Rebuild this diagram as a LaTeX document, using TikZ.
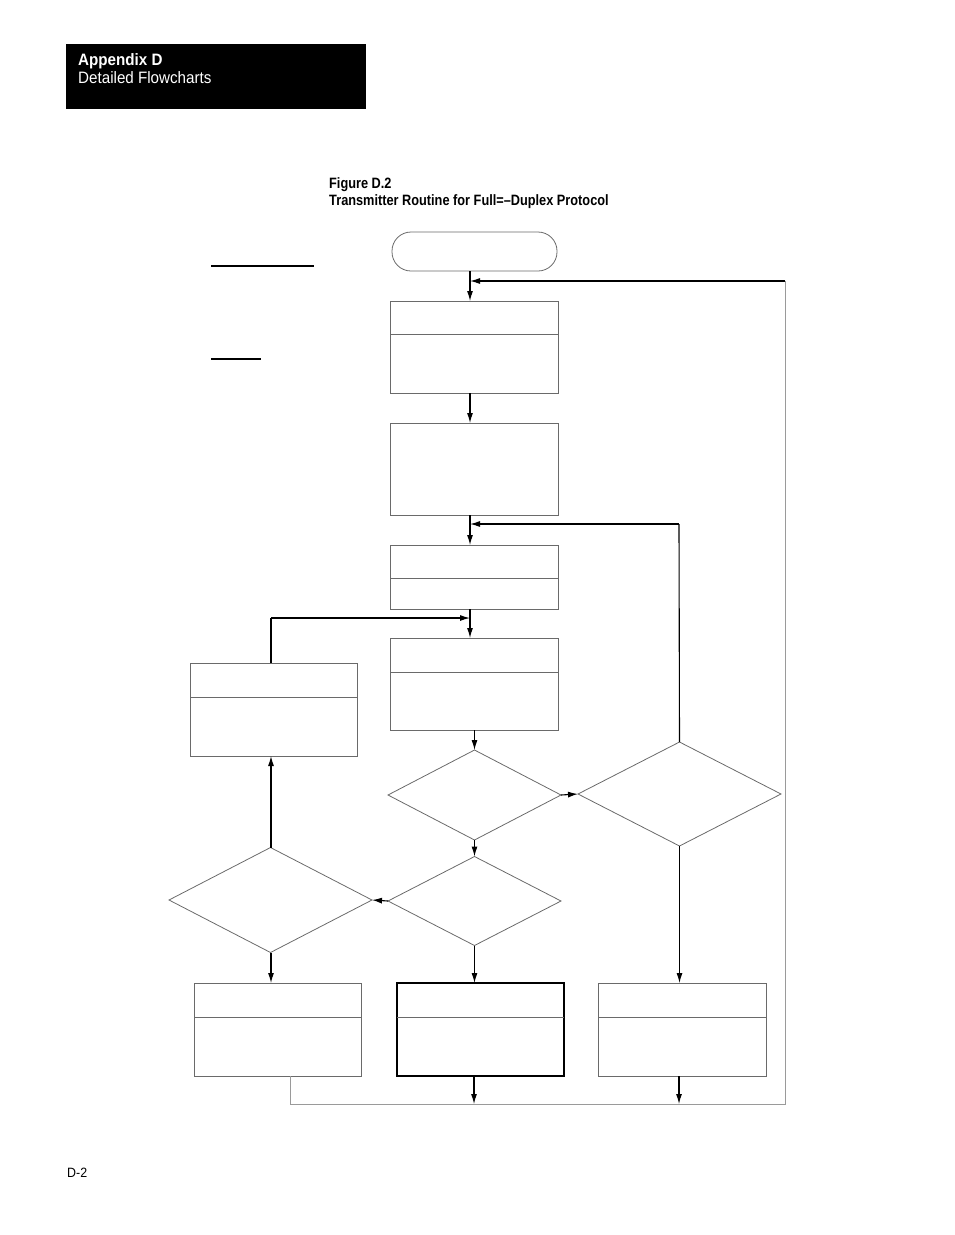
\documentclass[tikz,border=0pt]{standalone}
\usepackage{fontspec}
\setmainfont{Liberation Sans}
\newfontfamily\hdrfont[FakeStretch=0.92]{Liberation Sans}
\newfontfamily\ttlfont[FakeStretch=0.85]{Liberation Sans}
\usetikzlibrary{shapes.geometric,arrows.meta}
\definecolor{boxgray}{HTML}{6A6A6A}
\definecolor{loopgray}{HTML}{9A9A9A}
\begin{document}
\begin{tikzpicture}[x=1pt,y=-1pt,
  box/.style={draw=boxgray, line width=1pt, minimum width=168pt, minimum height=92pt, inner sep=0pt, outer sep=0pt},
  dia/.style={diamond, draw=boxgray, line width=0.8pt, inner sep=0pt, outer sep=0pt},
  div/.style={draw=boxgray, line width=0.9pt},
  arr/.style={-{Latex[length=10pt,width=6pt]}, line width=1.1pt, black},
  ln/.style={line width=1.1pt, black},
  gln/.style={line width=1pt, loopgray},
  txt/.style={inner sep=0pt, anchor=base west}]
\useasboundingbox (0,0) rectangle (954,1235);

% header
\node[fill=black, minimum width=300pt, minimum height=65pt, inner sep=0pt] (hdr) at (216,76.5) {};
\node[txt, text=white, font=\hdrfont\bfseries\fontsize{16.5}{19}\selectfont] (hdr1) at (78,65.5) {Appendix D};
\node[txt, text=white, font=\hdrfont\fontsize{16.5}{19}\selectfont] (hdr2) at (78,83.5) {Detailed Flowcharts};

% title
\node[txt, font=\ttlfont\bfseries\fontsize{15}{18}\selectfont] (ttl1) at (329,188.5) {Figure D.2};
\node[txt, font=\ttlfont\bfseries\fontsize{15}{18}\selectfont] (ttl2) at (329,205) {Transmitter Routine for Full=–Duplex Protocol};

% page number
\node[txt, font=\hdrfont\fontsize{13.5}{16}\selectfont] (pg) at (67,1177) {D-2};

% underlines
\draw[line width=1.2pt] (211,266) -- (314,266);
\draw[line width=1.2pt] (211,359) -- (261,359);

% terminator
\node[draw=boxgray, line width=0.8pt, rounded corners=19pt, minimum width=165pt, minimum height=39pt, inner sep=0pt] (term) at (474.5,251.5) {};

% boxes
\node[box] (b1) at (474,347) {};
\node[box] (b2) at (474,469) {};
\node[box, minimum height=64pt] (b3) at (474,577) {};
\node[box] (b4) at (474,684) {};
\node[box, minimum width=167pt, minimum height=93pt] (bL) at (273.5,709.5) {};
\node[box, minimum width=167pt, minimum height=93pt] (bBL) at (277.5,1029.5) {};
\node[box, minimum width=167pt, minimum height=93pt, draw=black, line width=1.1pt] (bBM) at (480.5,1029.5) {};
\node[box, minimum height=93pt] (bBR) at (682,1029.5) {};

% dividers
\draw[div] ([yshift=-33pt]b1.north west) -- ([yshift=-33pt]b1.north east);
\draw[div] ([yshift=-33pt]b3.north west) -- ([yshift=-33pt]b3.north east);
\draw[div] ([yshift=-34pt]b4.north west) -- ([yshift=-34pt]b4.north east);
\draw[div] ([yshift=-34pt]bL.north west) -- ([yshift=-34pt]bL.north east);
\draw[div] ([yshift=-34pt]bBL.north west) -- ([yshift=-34pt]bBL.north east);
\draw[div] ([yshift=-34pt]bBM.north west) -- ([yshift=-34pt]bBM.north east);
\draw[div] ([yshift=-34pt]bBR.north west) -- ([yshift=-34pt]bBR.north east);

% diamonds
\node[dia, minimum width=173pt, minimum height=90pt] (d1) at (474.5,795) {};
\node[dia, minimum width=203pt, minimum height=104pt] (d2) at (679.5,794) {};
\node[dia, minimum width=173pt, minimum height=89pt] (d3) at (474.5,901) {};
\node[dia, minimum width=203pt, minimum height=105pt] (d4) at (270.5,900) {};

% helper coordinates
\coordinate (cA) at (470,0);
\coordinate (j1) at (470,281);
\coordinate (j2) at (470,524);
\coordinate (j3) at (470,618);
\coordinate (cRt) at (785,281);
\coordinate (cR) at (785,1104);
\coordinate (cB) at (290,1104);
\coordinate (cM) at (474,1104);
\coordinate (cN) at (679,1104);
\coordinate (k2) at (679,524);
\coordinate (k3) at (271,618);
\coordinate (cL) at (271,0);

% main chain
\draw[arr] (term.south -| cA) -- (b1.north -| cA);
\draw[arr] (b1.south -| cA) -- (b2.north -| cA);
\draw[arr] (b2.south -| cA) -- (b3.north -| cA);
\draw[arr] (b3.south -| cA) -- (b4.north -| cA);
\draw[arr] (b4.south -| d1.north) -- (d1.north);
\draw[arr] (d1.east) -- (d2.west);
\draw[arr] (d1.south) -- (d3.north);
\draw[arr] (d3.west) -- (d4.east);
\draw[arr] (d4.north -| cL) -- (bL.south -| cL);
\draw[arr] (d4.south -| cL) -- (bBL.north -| cL);
\draw[arr] (d3.south) -- (bBM.north -| d3.south);
\draw[arr] (d2.south) -- (bBR.north -| d2.south);

% return paths
\draw[ln] (d2.north) -- (k2);
\draw[arr] (k2) -- (j2);
\draw[ln] (bL.north -| cL) -- (k3);
\draw[arr] (k3) -- (j3);
\draw[gln] (bBL.south -| cB) -- (cB) -- (cR) -- (cRt);
\draw[arr] (cRt) -- (j1);
\draw[arr] (bBM.south -| cM) -- (cM);
\draw[arr] (bBR.south -| cN) -- (cN);
\end{tikzpicture}
\end{document}
